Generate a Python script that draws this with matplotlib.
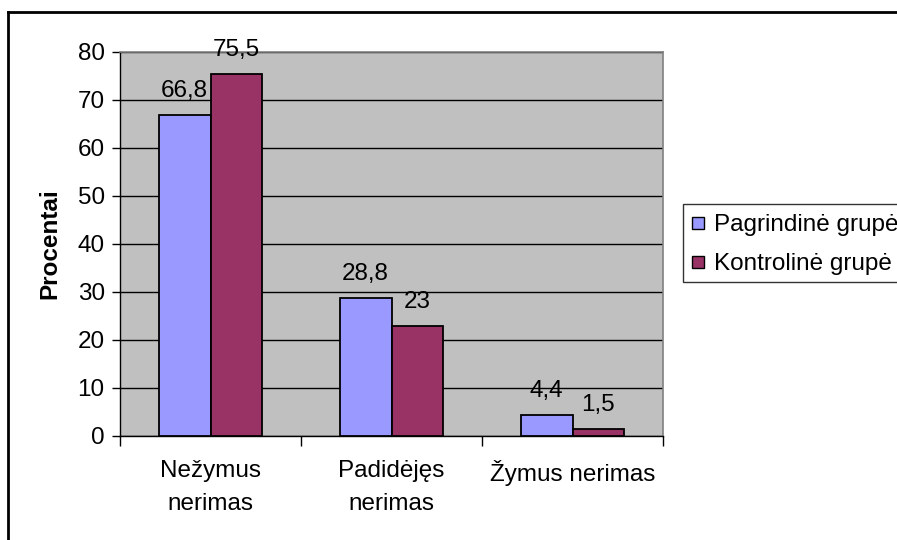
import matplotlib
matplotlib.use("Agg")
import matplotlib.pyplot as plt
import numpy as np
from matplotlib.lines import Line2D
from matplotlib.legend_handler import HandlerLine2D

plt.rcParams['font.family'] = ['Liberation Sans', 'DejaVu Sans']

categories = ["Nežymus\nnerimas", "Padidėjęs\nnerimas", "Žymus nerimas"]
series_names = ["Pagrindinė grupė", "Kontrolinė grupė"]
pagrindine = [66.8, 28.8, 4.4]
kontroline = [75.5, 23.0, 1.5]
y_ticks = [0, 10, 20, 30, 40, 50, 60, 70, 80]
colors = ["#9999FF", "#993366"]

FS = 17.5
W, H = 897, 540
fig = plt.figure(figsize=(W / 100, H / 100), dpi=100)

# plot area in pixel coordinates
left, right, top, bottom = 120, 663, 52, 436
ax = fig.add_axes([left / W, 1 - bottom / H, (right - left) / W, (bottom - top) / H])
ax.set_facecolor("#C0C0C0")

x = np.arange(len(categories))
bw = 1 / 3.5
ax.bar(x - bw / 2, pagrindine, bw, color=colors[0], edgecolor="black", linewidth=1.3,
       zorder=3)
ax.bar(x + bw / 2, kontroline, bw, color=colors[1], edgecolor="black", linewidth=1.3,
       zorder=3)

def fmt(v):
    return f"{v:g}".replace(".", ",")

for xs, vals in ((x - bw / 2, pagrindine), (x + bw / 2, kontroline)):
    for xi, v in zip(xs, vals):
        ax.annotate(fmt(v), (xi, v), xytext=(0, 13), textcoords="offset points",
                    ha="center", va="baseline", fontsize=FS)

ax.set_xlim(-0.5, len(categories) - 0.5)
ax.set_ylim(0, 80)
ax.set_yticks(y_ticks)
ax.set_yticklabels([str(t) for t in y_ticks], fontsize=FS)
ax.yaxis.grid(True, color="black", linewidth=1.0, zorder=0)
ax.set_axisbelow(True)

ax.set_xticks(np.arange(len(categories) + 1) - 0.5, minor=False)
ax.set_xticklabels([])
ax.set_xticks(x, minor=True)
ax.set_xticklabels(categories, minor=True, fontsize=FS, linespacing=1.65)
ax.tick_params(axis="x", which="minor", length=0, pad=17)
ax.tick_params(axis="x", which="major", length=7, width=1, direction="out", color="black")
ax.tick_params(axis="y", length=6, width=1, direction="out", pad=5)

for s in ["top", "right"]:
    ax.spines[s].set_color("#808080")
    ax.spines[s].set_linewidth(1.2)
ax.spines["left"].set_color("black")
ax.spines["bottom"].set_color("black")
ax.spines["left"].set_linewidth(1.0)
ax.spines["bottom"].set_linewidth(1.0)

ax.set_ylabel("Procentai", fontsize=FS, fontweight="bold", labelpad=12)


class SquareHandler(HandlerLine2D):
    """Legend square nudged down to sit level with its label."""
    def create_artists(self, legend, orig_handle, xdescent, ydescent, width, height,
                       fontsize, trans):
        return super().create_artists(legend, orig_handle, xdescent, ydescent + 8.5,
                                      width, height, fontsize, trans)


handles = [Line2D([], [], linestyle="none", marker="s", markersize=9,
                  markerfacecolor=c, markeredgecolor="black", markeredgewidth=1.0)
           for c in colors]
leg = fig.legend(handles, series_names, loc="upper left",
                 bbox_to_anchor=(683 / W, 1 - 204 / H),
                 handler_map={Line2D: SquareHandler()},
                 fontsize=FS, frameon=True, fancybox=False, edgecolor="black",
                 handlelength=1.27, handleheight=2.09, handletextpad=0.0,
                 borderpad=0.0, labelspacing=0.0, borderaxespad=0)
leg.get_frame().set_linewidth(1.0)

# outer chart border
fig.add_artist(Line2D([8 / W, 1.0], [1 - 12 / H, 1 - 12 / H], color="black",
                      linewidth=2.0, transform=fig.transFigure))
fig.add_artist(Line2D([8 / W, 8 / W], [1 - 12 / H, 0.0], color="black",
                      linewidth=2.0, transform=fig.transFigure))

fig.savefig("out.png", dpi=100)
